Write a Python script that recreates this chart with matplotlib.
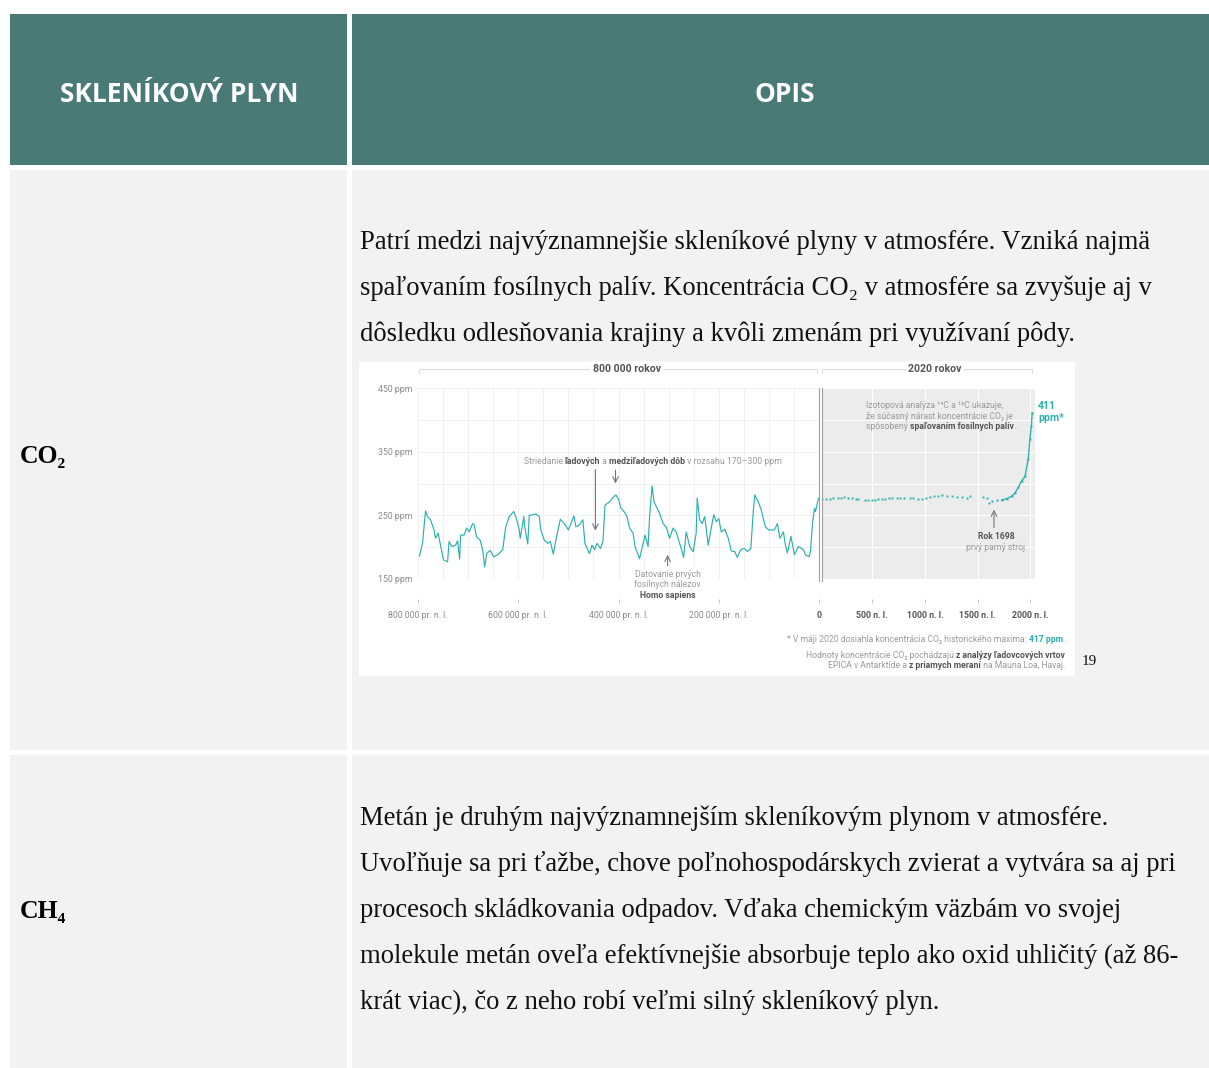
import matplotlib
matplotlib.use("Agg")
import matplotlib.pyplot as plt
from matplotlib.patches import Rectangle
from matplotlib.transforms import IdentityTransform
import numpy as np

W, H = 1209, 1068

# --- data ---
# ice-core record, thousand years before present
ice_age_kyr = [797, 791, 785, 781, 775, 768, 765, 760, 755, 749, 741, 738, 733, 725, 721,
               717, 715, 708, 703, 698, 691, 688, 683, 676, 671, 667, 663, 656, 649, 641,
               631, 625, 618, 609, 605, 601, 598, 596, 589, 587, 581, 578, 565, 558, 555,
               548, 541, 536, 530, 525, 516, 508, 500, 495, 489, 485, 478, 471, 467, 458,
               453, 448, 443, 436, 431, 427, 418, 410, 405, 400, 395, 389, 383, 378, 371,
               367, 358, 351, 347, 341, 338, 333, 329, 323, 318, 311, 305, 298, 291, 285,
               278, 273, 270, 265, 258, 251, 245, 243, 238, 233, 228, 221, 215, 210, 205,
               200, 195, 188, 181, 175, 168, 163, 156, 149, 143, 136, 131, 128, 121, 115,
               107, 100, 89, 83, 78, 71, 67, 63, 56, 49, 41, 31, 27, 20, 17,
               13, 9, 7, 1]
ice_ppm = [186, 206, 257, 248, 243, 227, 214, 222, 203, 180, 177, 209, 201, 203, 210,
           181, 219, 219, 230, 224, 237, 235, 216, 211, 196, 169, 190, 195, 185, 188,
           196, 232, 248, 256, 248, 237, 227, 214, 248, 232, 205, 250, 252, 248, 227,
           211, 206, 209, 189, 211, 244, 237, 227, 237, 249, 232, 235, 243, 206, 190,
           203, 196, 206, 198, 209, 266, 271, 279, 282, 275, 261, 256, 248, 230, 222,
           201, 182, 206, 219, 201, 248, 296, 271, 261, 253, 237, 232, 214, 230, 224,
           206, 193, 184, 224, 201, 193, 222, 277, 243, 237, 248, 203, 230, 251, 240,
           245, 224, 228, 214, 194, 193, 184, 196, 198, 193, 198, 258, 282, 271, 258,
           232, 227, 227, 237, 214, 224, 203, 191, 217, 188, 201, 196, 188, 185, 193,
           237, 261, 256, 277]

# last two millennia, year AD
ad_year = [29, 60, 101, 133, 174, 206, 237, 275, 307, 345, 370, 433, 465, 503, 528,
           560, 591, 623, 661, 692, 733, 765, 806, 860, 891, 939, 970, 1008, 1049, 1090,
           1122, 1160, 1207, 1255, 1302, 1349, 1397, 1428, 1555, 1586, 1608, 1634, 1681,
           1729, 1776, 1823, 1855, 1887, 1918, 1950, 1981, 1997, 2010, 2018]
ad_ppm = [276, 275, 276, 277, 278, 278, 279, 277, 277, 276, 275, 274, 274, 274, 274,
          275, 275, 276, 277, 277, 277, 277, 277, 277, 277, 276, 276, 278, 279, 280,
          281, 282, 281, 281, 279, 279, 278, 280, 279, 278, 269, 272, 274,
          274, 276, 280, 285, 294, 304, 311, 339, 370, 390, 411]

ice_ticks = [-800, -600, -400, -200, 0]
ice_tick_labels = ["800 000 pr. n. l.", "600 000 pr. n. l.", "400 000 pr. n. l.",
                   "200 000 pr. n. l.", "0"]
ad_ticks = [500, 1000, 1500, 2000]
ad_tick_labels = ["500 n. l.", "1000 n. l.", "1500 n. l.", "2000 n. l."]
ppm_ticks = [150, 250, 350, 450]
ppm_tick_labels = ["150 ppm", "250 ppm", "350 ppm", "450 ppm"]

para_co2 = ["Patrí medzi najvýznamnejšie skleníkové plyny v atmosfére. Vzniká najmä",
            "spaľovaním fosílnych palív. Koncentrácia CO₂ v atmosfére sa zvyšuje aj v",
            "dôsledku odlesňovania krajiny a kvôli zmenám pri využívaní pôdy."]
para_ch4 = ["Metán je druhým najvýznamnejším skleníkovým plynom v atmosfére.",
            "Uvoľňuje sa pri ťažbe, chove poľnohospodárskych zvierat a vytvára sa aj pri",
            "procesoch skládkovania odpadov. Vďaka chemickým väzbám vo svojej",
            "molekule metán oveľa efektívnejšie absorbuje teplo ako oxid uhličitý (až 86-",
            "krát viac), čo z neho robí veľmi silný skleníkový plyn."]

TEAL_HEAD = "#4a7a76"
CELL = "#f2f2f2"
LINE = "#2bb1ae"
SERIF = ["Liberation Serif", "DejaVu Serif"]
SANS = ["Roboto", "DejaVu Sans"]
GRAY_TXT = "#9a9a9a"
DARK_TXT = "#555555"
PARA_SIZE = 19.2

fig = plt.figure(figsize=(W / 100, H / 100), dpi=100)
fig.patch.set_facecolor("white")


def fx(x):
    return x / W


def fy(y):
    return 1 - y / H


def cell(x0, y0, x1, y1, color):
    fig.patches.append(Rectangle((fx(x0), fy(y1)), (x1 - x0) / W, (y1 - y0) / H,
                                 transform=fig.transFigure, facecolor=color,
                                 edgecolor="none", zorder=-5))


# table
cell(10, 14, 347, 165, TEAL_HEAD)
cell(352, 14, 1209, 165, TEAL_HEAD)
cell(10, 170, 347, 750, CELL)
cell(352, 170, 1209, 750, CELL)
cell(10, 755, 347, 1068, CELL)
cell(352, 755, 1209, 1068, CELL)
cell(359, 362, 1075, 676, "white")

hdr = dict(color="white", fontsize=19, fontweight="bold", family=["Open Sans", "DejaVu Sans"],
           ha="center", va="baseline")
fig.text(fx(179), fy(102), "SKLENÍKOVÝ PLYN", **hdr)
fig.text(fx(785), fy(102), "OPIS", **hdr)

fig.text(fx(20), fy(463), "CO₂", family=SERIF, fontsize=18.5, fontweight="bold", va="baseline")
fig.text(fx(20), fy(918), "CH₄", family=SERIF, fontsize=18.5, fontweight="bold", va="baseline")

for i, line in enumerate(para_co2):
    fig.text(fx(360), fy(249 + 46 * i), line, family=SERIF, fontsize=PARA_SIZE, va="baseline",
             color="#111111")
for i, line in enumerate(para_ch4):
    fig.text(fx(360), fy(825 + 46 * i), line, family=SERIF, fontsize=PARA_SIZE, va="baseline",
             color="#111111")
fig.text(fx(1082), fy(665), "19", family=SERIF, fontsize=11, va="baseline", color="#111111")

# --- chart axes ---
ax = fig.add_axes([fx(418), fy(579), (819 - 418) / W, (579 - 388) / H])
ax2 = fig.add_axes([fx(822), fy(579), (1035 - 822) / W, (579 - 388) / H])

for a in (ax, ax2):
    a.set_ylim(150, 450)
    for s in a.spines.values():
        s.set_visible(False)
    a.spines["bottom"].set_position(("outward", 14.5))
    a.tick_params(axis="x", length=3, width=0.6, color="#bbbbbb", pad=5.5)
    a.tick_params(axis="y", length=0)

ax.set_facecolor("white")
ax.set_xlim(-800, 0)
ax.set_yticks(np.arange(150, 451, 50))
ax.set_yticklabels(["" if v not in ppm_ticks else ppm_tick_labels[ppm_ticks.index(v)]
                    for v in np.arange(150, 451, 50)], fontsize=6.3, color="#8a8a8a",
                   family=SANS)
ax.tick_params(axis="y", pad=4)
ax.xaxis.set_ticks(ice_ticks, labels=ice_tick_labels, fontsize=6.3, color="#8a8a8a",
                   family=SANS)
ax.xaxis.set_minor_locator(matplotlib.ticker.MultipleLocator(50))
ax.tick_params(axis="x", which="minor", length=0)
ax.grid(True, which="both", color="#eeeeee", lw=0.6)
ax.set_axisbelow(True)
lbl0 = ax.get_xticklabels()[-1]
lbl0.set_fontweight("bold")
lbl0.set_color(DARK_TXT)
ax.plot([-a for a in ice_age_kyr], ice_ppm, color=LINE, lw=0.85, clip_on=False)

ax2.set_facecolor("#ececec")
ax2.set_xlim(25, 2045)
ax2.set_xticks(ad_ticks, labels=ad_tick_labels, fontsize=6.3, color=DARK_TXT,
               family=SANS, fontweight="bold")
ax2.set_yticks(np.arange(150, 451, 50), labels=[])
ax2.grid(True, color="white", lw=0.8)
ax2.set_axisbelow(True)
early = [y <= 1700 for y in ad_year]
ax2.plot([y for y, e in zip(ad_year, early) if e], [p for p, e in zip(ad_ppm, early) if e],
         ls="none", marker="s", ms=1.4, mew=0, color=LINE)
ax2.plot([y for y, e in zip(ad_year, early) if not e],
         [p for p, e in zip(ad_ppm, early) if not e],
         color=LINE, lw=1.0, marker="s", ms=1.4, mew=0)

# double separator
ax.axvline(0, color="#a0a0a0", lw=0.8, clip_on=False, ymin=-0.01, ymax=1)
ax2.axvline(25, color="#a0a0a0", lw=0.8, clip_on=False, ymin=-0.01, ymax=1)

fig.canvas.draw()
R = fig.canvas.get_renderer()


def width(s, **kw):
    t = fig.text(0, 0, "|" + s + "|", **kw)
    t2 = fig.text(0, 0, "||", **kw)
    w = t.get_window_extent(R).width - t2.get_window_extent(R).width
    t.remove()
    t2.remove()
    return w


def runs(x, y, parts, trans, ha="left", size=6.2, va="center"):
    dx, dy = trans.transform((x, y))
    styles = []
    for s, bold, col in parts:
        styles.append(dict(fontsize=size, family=SANS, color=col,
                           fontweight="bold" if bold else "normal"))
    ws = [width(s, **st) for (s, _, _), st in zip(parts, styles)]
    tot = sum(ws)
    start = dx - (tot if ha == "right" else tot / 2 if ha == "center" else 0)
    for (s, _, _), st, w in zip(parts, styles, ws):
        fig.text(start, dy, s, transform=IdentityTransform(), ha="left", va=va, zorder=5, **st)
        start += w


FT = fig.transFigure

# period brackets
for (x0, x1, xc, label) in [(419, 817, 627, "800 000 rokov"), (822, 1032, 935, "2020 rokov")]:
    fig.lines.append(plt.Line2D([fx(x0), fx(x0), fx(x1), fx(x1)],
                                [fy(373), fy(369), fy(369), fy(373)], transform=FT,
                                color="#dddddd", lw=0.8))
    fig.text(fx(xc), fy(369), label, ha="center", va="center", fontsize=7.6,
             fontweight="bold", color=DARK_TXT, family=SANS,
             bbox=dict(facecolor="white", edgecolor="none", pad=2))

# ice age annotation
runs(-589, 334, [("Striedanie ", False, GRAY_TXT), ("ľadových", True, DARK_TXT),
                 (" a ", False, GRAY_TXT), ("medziľadových dôb", True, DARK_TXT),
                 (" v rozsahu 170–300 ppm", False, GRAY_TXT)], ax.transData, size=6.3)
ax.annotate("", xy=(-446, 226), xytext=(-446, 322),
            arrowprops=dict(arrowstyle="->", color="#777777", lw=0.8, shrinkA=0, shrinkB=0))
ax.annotate("", xy=(-406, 300), xytext=(-406, 321),
            arrowprops=dict(arrowstyle="->", color="#777777", lw=0.8, shrinkA=0, shrinkB=0))
ax.annotate("", xy=(-302, 188), xytext=(-302, 171),
            arrowprops=dict(arrowstyle="->", color="#777777", lw=0.8, shrinkA=0, shrinkB=0))
for yy, txt, b in [(157, "Datovanie prvých", False), (141, "fosílnych nálezov", False),
                   (124, "Homo sapiens", True)]:
    ax.text(-302, yy, txt, ha="center", va="center", fontsize=6.2, family=SANS,
            color=DARK_TXT if b else GRAY_TXT, fontweight="bold" if b else "normal",
            clip_on=False, bbox=dict(facecolor="white", edgecolor="none", pad=0.6))

# isotope annotation
ax2.text(443, 422, "Izotopová analýza ¹⁴C a ¹³C ukazuje,", fontsize=6.2, family=SANS,
         color=GRAY_TXT, va="center")
ax2.text(443, 406, "že súčasný nárast koncentrácie CO₂ je", fontsize=6.2, family=SANS,
         color=GRAY_TXT, va="center")
runs(443, 389, [("spôsobený ", False, GRAY_TXT), ("spaľovaním fosílnych palív", True, DARK_TXT),
                (".", False, GRAY_TXT)], ax2.transData)
ax2.text(2075, 422, "411", fontsize=7.6, fontweight="bold", color=LINE, family=SANS,
         va="center", clip_on=False)
ax2.text(2075, 403, "ppm*", fontsize=7.6, fontweight="bold", color=LINE, family=SANS,
         va="center", clip_on=False)
ax2.annotate("", xy=(1656, 259), xytext=(1656, 231),
             arrowprops=dict(arrowstyle="->", color="#777777", lw=0.8, shrinkA=0, shrinkB=0))
ax2.text(1675, 217, "Rok 1698", ha="center", va="center", fontsize=6.2, fontweight="bold",
         color=DARK_TXT, family=SANS)
ax2.text(1675, 200, "prvý parný stroj", ha="center", va="center", fontsize=6.2,
         color=GRAY_TXT, family=SANS)

# footnotes
runs(fx(1065), fy(639), [("* V máji 2020 dosiahla koncentrácia CO₂ historického maxima: ", False, GRAY_TXT),
                         ("417 ppm", True, LINE), (".", False, GRAY_TXT)], FT, ha="right")
runs(fx(1065), fy(655), [("Hodnoty koncentrácie CO₂ pochádzajú ", False, GRAY_TXT),
                         ("z analýzy ľadovcových vrtov", True, DARK_TXT)], FT, ha="right")
runs(fx(1065), fy(666), [("EPICA v Antarktíde a ", False, GRAY_TXT),
                         ("z priamych meraní", True, DARK_TXT),
                         (" na Mauna Loa, Havaj.", False, GRAY_TXT)], FT, ha="right")

fig.savefig("out.png", dpi=100)
